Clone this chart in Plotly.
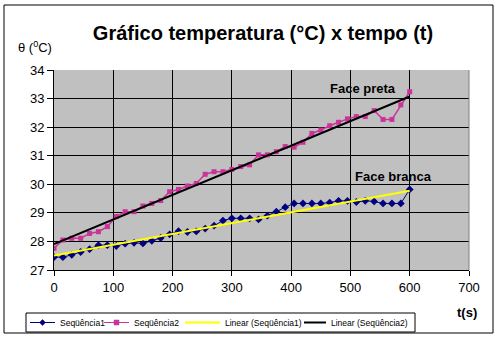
import numpy as np
import plotly.graph_objects as go

t = list(range(0, 601, 15))
seq1 = [27.45, 27.45, 27.53, 27.63, 27.73, 27.87, 27.87, 27.84, 27.92, 27.95,
        27.93, 28.02, 28.12, 28.25, 28.36, 28.33, 28.35, 28.45, 28.55, 28.73,
        28.81, 28.81, 28.81, 28.77, 28.90, 29.04, 29.20, 29.33, 29.33, 29.33,
        29.33, 29.36, 29.42, 29.42, 29.38, 29.42, 29.40, 29.33, 29.33, 29.33,
        29.82]
seq2 = [27.76, 28.05, 28.11, 28.11, 28.28, 28.34, 28.52, 28.87, 29.04, 29.04,
        29.24, 29.33, 29.43, 29.74, 29.82, 29.94, 30.03, 30.35, 30.44, 30.44,
        30.52, 30.62, 30.68, 31.03, 31.03, 31.14, 31.32, 31.30, 31.47, 31.78,
        31.90, 32.05, 32.17, 32.29, 32.37, 32.37, 32.58, 32.27, 32.27, 32.78,
        33.24]
names = ["Seqüência1", "Seqüência2", "Linear (Seqüência1)", "Linear (Seqüência2)"]
x_ticks = [0, 100, 200, 300, 400, 500, 600, 700]
y_ticks = [27, 28, 29, 30, 31, 32, 33, 34]

C1 = "#000080"
C2 = "#CC3399"
C3 = "#FFFF00"
C4 = "#000000"

ta = np.array(t, dtype=float)
p1 = np.polyfit(ta, seq1, 1)
p2 = np.polyfit(ta, seq2, 1)
tl = [0, 600]

fig = go.Figure()
fig.add_trace(go.Scatter(x=t, y=seq1, mode="lines+markers", name=names[0],
                         line=dict(color=C1, width=1),
                         marker=dict(symbol="diamond", size=6, color=C1)))
fig.add_trace(go.Scatter(x=t, y=seq2, mode="lines+markers", name=names[1],
                         line=dict(color=C2, width=1.5),
                         marker=dict(symbol="square", size=5, color=C2)))
fig.add_trace(go.Scatter(x=tl, y=list(np.polyval(p1, tl)), mode="lines", name=names[2],
                         line=dict(color=C3, width=2)))
fig.add_trace(go.Scatter(x=tl, y=list(np.polyval(p2, tl)), mode="lines", name=names[3],
                         line=dict(color=C4, width=2)))

# plot area in pixels
L, R, T, B = 54, 469, 70, 270
def px(xp):
    return (xp - L) / (R - L)
def py(yp):
    return (B - yp) / (B - T)

font = "Arial, Liberation Sans, sans-serif"
fig.update_layout(
    width=500, height=339,
    margin=dict(l=L, r=500 - R, t=T, b=339 - B),
    paper_bgcolor="white", plot_bgcolor="#C0C0C0",
    font=dict(family=font, color="black"),
    title=dict(text="<b>Gráfico temperatura (°C) x tempo (t)</b>",
               x=263/500, xanchor="center", y=1-33/339, yanchor="middle",
               font=dict(size=20, family=font, color="black")),
    xaxis=dict(range=[0, 700], tickvals=x_ticks, showgrid=True, gridcolor="black",
               gridwidth=1, showline=True, linecolor="black", linewidth=1,
               ticks="outside", ticklen=5, tickcolor="black", zeroline=False,
               tickfont=dict(size=13, family=font, color="black"),
               tickprefix="<b>", ticksuffix="</b>"),
    yaxis=dict(range=[27, 34], tickvals=y_ticks, showgrid=True, gridcolor="black",
               gridwidth=1, showline=True, linecolor="black", linewidth=1,
               ticks="outside", ticklen=6, tickcolor="black", zeroline=False,
               tickfont=dict(size=13, family=font, color="black"),
               tickprefix="<b>", ticksuffix="</b>"),
    showlegend=False,
)

# outer chart border
fig.add_shape(type="rect", xref="paper", yref="paper",
              x0=px(4), x1=px(493), y0=py(333), y1=py(5),
              line=dict(color="black", width=1), layer="below")
fig.add_shape(type="line", xref="paper", yref="paper", x0=1, x1=1, y0=0, y1=1,
              line=dict(color="#808080", width=1))

# legend (drawn manually)
fig.add_shape(type="rect", xref="paper", yref="paper",
              x0=px(26), x1=px(415), y0=py(332), y1=py(313),
              line=dict(color="black", width=1), fillcolor="white")
ly = 322.5
legend_items = [
    (30, 55, C1, "diamond", names[0], 58),
    (104, 129, C2, "square", names[1], 132),
    (185, 220, C3, None, names[2], 223),
    (304, 326, C4, None, names[3], 329),
]
for x0, x1, col, sym, label, tx in legend_items:
    fig.add_shape(type="line", xref="paper", yref="paper",
                  x0=px(x0), x1=px(x1), y0=py(ly), y1=py(ly),
                  line=dict(color=col, width=1 if sym else 2))
    cx = (x0 + x1) / 2
    if sym == "diamond":
        path = "M {} {} L {} {} L {} {} L {} {} Z".format(
            px(cx), py(ly - 3), px(cx + 3), py(ly), px(cx), py(ly + 3), px(cx - 3), py(ly))
        fig.add_shape(type="path", xref="paper", yref="paper", path=path,
                      fillcolor=col, line=dict(color=col, width=0.5))
    elif sym == "square":
        fig.add_shape(type="rect", xref="paper", yref="paper",
                      x0=px(cx - 2.5), x1=px(cx + 2.5), y0=py(ly + 2.5), y1=py(ly - 2.5),
                      fillcolor=col, line=dict(color=col, width=0.5))
    fig.add_annotation(x=px(tx), y=py(ly), xref="paper", yref="paper", text=label,
                       showarrow=False, xanchor="left", yanchor="middle",
                       font=dict(size=8.5, family=font, color="black"))

fig.add_annotation(x=px(35), y=py(47), xref="paper", yref="paper",
                   text="θ (<sup>0</sup>C)", showarrow=False, xanchor="center",
                   yanchor="middle", font=dict(size=13, family=font, color="black"))
fig.add_annotation(x=px(467), y=py(312), xref="paper", yref="paper",
                   text="<b>t(s)</b>", showarrow=False, xanchor="center",
                   yanchor="middle", font=dict(size=13, family=font, color="black"))
fig.add_annotation(x=521, y=33.37, text="<b>Face preta</b>", showarrow=False,
                   font=dict(size=13, family=font, color="black"))
fig.add_annotation(x=572, y=30.29, text="<b>Face branca</b>", showarrow=False,
                   font=dict(size=13, family=font, color="black"))

fig.write_html("out.html")
